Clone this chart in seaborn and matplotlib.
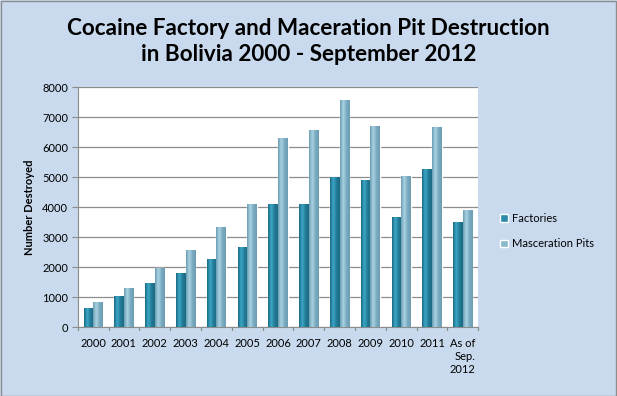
import matplotlib
matplotlib.use("Agg")
import matplotlib.pyplot as plt
import seaborn as sns
import pandas as pd
import numpy as np

# Data
years = ["2000", "2001", "2002", "2003", "2004", "2005", "2006", "2007",
         "2008", "2009", "2010", "2011", "As of\nSep.\n2012"]
factories = [640, 1020, 1460, 1790, 2280, 2660, 4100, 4100, 4990, 4900, 3660, 5260, 3490]
maceration_pits = [820, 1310, 1980, 2560, 3330, 4100, 6310, 6570, 7570, 6710, 5030, 6670, 3920]
series_names = ["Factories", "Masceration Pits"]

df = pd.DataFrame({
    "year": years * 2,
    "value": factories + maceration_pits,
    "series": [series_names[0]] * len(years) + [series_names[1]] * len(years),
})

sns.set_style("white")
plt.rcParams["font.family"] = ["Lato", "DejaVu Sans"]
plt.rcParams["text.color"] = "black"
plt.rcParams["xtick.color"] = "black"
plt.rcParams["ytick.color"] = "black"
plt.rcParams["axes.labelcolor"] = "black"

bg = "#C9DAEE"
colors = {"Factories": "#2A8CAA", "Masceration Pits": "#86B9CC"}
grads = {"Factories": ("#1B6A84", "#3BA7C6", "#237A96"),
         "Masceration Pits": ("#6B9DB2", "#A9D3E3", "#7AAAC0")}

fig = plt.figure(figsize=(6.17, 3.96), dpi=100, facecolor=bg)
ax = fig.add_axes([0.126, 0.174, 0.649, 0.606])
ax.set_facecolor("white")

sns.barplot(data=df, x="year", y="value", hue="series", palette=colors,
            width=0.62, ax=ax, legend=True, saturation=1, zorder=3)

# cylinder-like shading on each bar
for cont, name in zip(ax.containers, series_names):
    c0, c1, c2 = grads[name]
    cmap = matplotlib.colors.LinearSegmentedColormap.from_list(name, [c0, c1, c2, c0])
    grad = np.linspace(0, 1, 64).reshape(1, -1)
    for p in cont.patches:
        x0, y0 = p.get_x(), p.get_y()
        w, h = p.get_width(), p.get_height()
        im = ax.imshow(grad, extent=[x0, x0 + w, y0, y0 + h], aspect="auto",
                       cmap=cmap, zorder=4, origin="lower")
        im.set_clip_path(p)

ax.set_xlim(-0.5, len(years) - 0.5)
ax.set_ylim(0, 8000)
ax.set_yticks(range(0, 8001, 1000))
ax.yaxis.grid(True, color="#8C8C8C", linewidth=0.9, zorder=0)
ax.set_axisbelow(True)
for s in ["top", "right"]:
    ax.spines[s].set_visible(False)
ax.spines["left"].set_color("#8C8C8C")
ax.spines["bottom"].set_color("#8C8C8C")

ax.set_xlabel("")
ax.set_ylabel("Number Destroyed", fontsize=8, fontweight="bold", labelpad=5)
ax.tick_params(axis="y", labelsize=8, length=4, color="#8C8C8C", direction="out", left=True, pad=3)
ax.tick_params(axis="x", labelsize=8, length=0, pad=8)
ax.set_xticks(np.arange(len(years)))
labels = ax.set_xticklabels(years)
labels[-1].set_multialignment("right")
labels[-1].set_verticalalignment("top")
# tick marks between categories
for xb in np.arange(-0.5, len(years), 1.0):
    ax.plot([xb, xb], [0, -110], color="#8C8C8C", lw=0.9, clip_on=False, zorder=2)

leg = ax.legend(loc="center left", bbox_to_anchor=(1.03, 0.40), frameon=False,
                fontsize=8, handlelength=0.7, handleheight=0.7, handletextpad=0.4,
                labelspacing=1.3)

fig.text(0.5, 0.955, "Cocaine Factory and Maceration Pit Destruction\nin Bolivia 2000 - September 2012",
         ha="center", va="top", fontsize=16.2, fontweight="bold", linespacing=1.28)

fig.patches.append(matplotlib.patches.Rectangle((0.001, 0.001), 0.997, 0.997, transform=fig.transFigure,
                                                fill=False, edgecolor="#8C8C8C", linewidth=1))

fig.savefig("out.png", dpi=100, facecolor=bg)
